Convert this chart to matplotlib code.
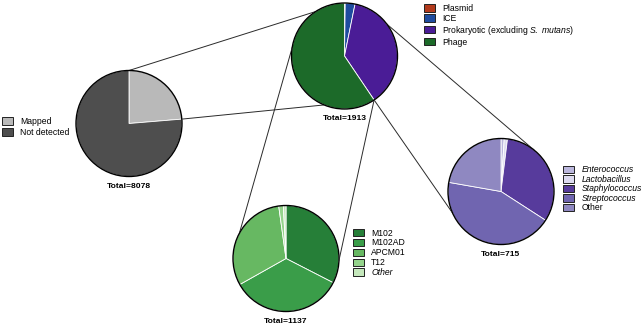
import matplotlib
matplotlib.use("Agg")
import matplotlib.pyplot as plt
from matplotlib.patches import Circle, Patch
from matplotlib.lines import Line2D
import numpy as np

plt.rcParams['font.family'] = ['Liberation Sans', 'DejaVu Sans']
plt.rcParams['mathtext.fontset'] = 'custom'
plt.rcParams['mathtext.rm'] = 'Liberation Sans'
plt.rcParams['mathtext.it'] = 'Liberation Sans:italic'

# ---------------- data ----------------
all_labels = ["Mapped", "Not detected"]
all_values = [1913, 6165]
all_colors = ["#b9b9b9", "#4e4e4e"]
all_italic = [False, False]

source_labels = ["Plasmid", "ICE", r"Prokaryotic (excluding $\it{S.\ mutans}$)", "Phage"]
source_values = [4, 57, 715, 1137]
source_colors = ["#b23a1c", "#1e4c9f", "#4a1c96", "#1c6a29"]
source_italic = [False, False, False, False]

prok_labels = ["Enterococcus", "Lactobacillus", "Staphylococcus", "Streptococcus", "Other"]
prok_values = [7, 7, 230, 312, 159]
prok_colors = ["#bbb7dd", "#dddbf0", "#573b9c", "#7065b0", "#8f88c1"]
prok_italic = [True, True, True, True, False]

phage_labels = ["M102", "M102AD", "APCM01", "T12", "Other"]
phage_values = [370, 390, 352, 16, 9]
phage_colors = ["#267f38", "#3a9d49", "#67b862", "#94d38b", "#c5e8bc"]
phage_italic = [False, False, False, False, True]

# ---------------- layout (pixels) ----------------
W, H = 643, 327
fig = plt.figure(figsize=(W / 100, H / 100), dpi=100)
R = 53.0

def fx(x):
    return x / W

def fy(y):
    return 1 - y / H

pies = {
    "all":    dict(c=(129, 123.5), vals=all_values, cols=all_colors, labs=all_labels, ital=all_italic,
                   leg=(2, 117.0), spacing=12.0),
    "source": dict(c=(344.5, 56), vals=source_values, cols=source_colors, labs=source_labels, ital=source_italic,
                   leg=(424, 4.0), spacing=10.8),
    "prok":   dict(c=(501, 191.5), vals=prok_values, cols=prok_colors, labs=prok_labels, ital=prok_italic,
                   leg=(563, 165.5), spacing=10.4),
    "phage":  dict(c=(286, 258.5), vals=phage_values, cols=phage_colors, labs=phage_labels, ital=phage_italic,
                   leg=(352.7, 228.5), spacing=10.8),
}

FS = 6.2
for key, p in pies.items():
    cx, cy = p["c"]
    ax = fig.add_axes([fx(cx - R), fy(cy + R), 2 * R / W, 2 * R / H])
    ax.pie(p["vals"], colors=p["cols"], startangle=90, counterclock=False, radius=1,
           wedgeprops=dict(edgecolor="white", linewidth=0.6))
    ax.add_patch(Circle((0, 0), 1, fill=False, edgecolor="black", lw=1.0, clip_on=False, zorder=5))
    ax.set_xlim(-1, 1)
    ax.set_ylim(-1, 1)
    ax.set_aspect("equal")
    ax.axis("off")
    ax.text(0, -1.18, "Total=%d" % sum(p["vals"]), ha="center", va="center",
            fontsize=6.1, fontweight="bold")
    handles = [Patch(facecolor=c, edgecolor="#222222", linewidth=0.7) for c in p["cols"]]
    lx, ly = p["leg"]
    fs_px = FS * 100 / 72
    leg = fig.legend(handles, p["labs"], loc="upper left", bbox_to_anchor=(fx(lx), fy(ly)),
                     frameon=False, fontsize=FS, handlelength=1.33, handleheight=0.93,
                     handletextpad=0.8, borderpad=0, borderaxespad=0,
                     labelspacing=max(0.0, (p["spacing"] - 1.15 * fs_px) / fs_px))
    for t, it in zip(leg.get_texts(), p["ital"]):
        if it:
            t.set_fontstyle("italic")

def pt(key, ang):
    cx, cy = pies[key]["c"]
    a = np.deg2rad(ang)
    return (cx + R * np.cos(a), cy - R * np.sin(a))

# angles derived from data where the lines leave slice edges
mapped_end = 90 - 360 * all_values[0] / sum(all_values)
phage_start = 90 - 360 * sum(source_values[:3]) / sum(source_values)

connections = [
    ("all", 90, "source", 123),
    ("all", mapped_end, "source", phage_start),
    ("source", 171, "phage", 151.6),
    ("source", phage_start, "phage", -2),
    ("source", 37, "prok", 51),
    ("source", phage_start, "prok", 204),
]
for a, aa, b, ab in connections:
    x1, y1 = pt(a, aa)
    x2, y2 = pt(b, ab)
    fig.add_artist(Line2D([fx(x1), fx(x2)], [fy(y1), fy(y2)], color="#2a2a2a", lw=0.7, zorder=-1))

fig.savefig("out.png", dpi=100)
